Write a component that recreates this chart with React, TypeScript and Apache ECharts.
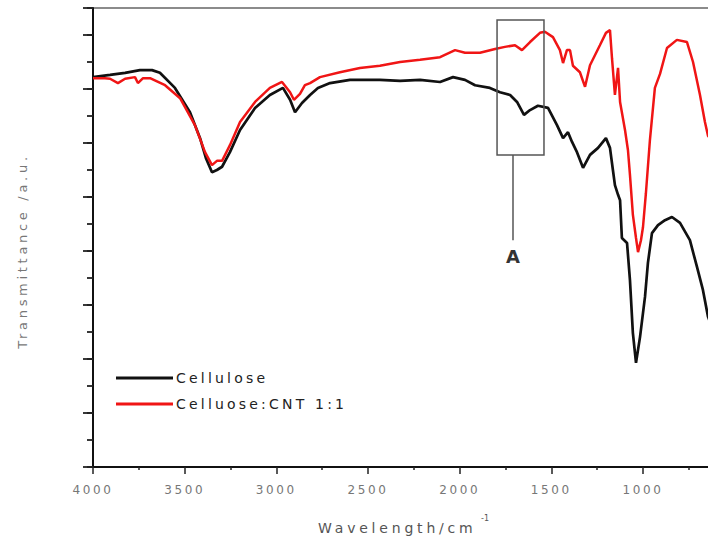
import React, { useEffect, useRef } from 'react';
import * as echarts from 'echarts';

// Cellulose (black) – wavenumber (cm-1) and transmittance (a.u.)
const cellWn = [4000,3907,3825,3744,3678,3635,3553,3471,3416,3384,3351,3324,3296,3253,3198,3116,3035,2964,2925,2898,2860,2816,2773,2707,2598,2435,2325,2216,2107,2036,1971,1916,1835,1780,1725,1687,1649,1616,1573,1518,1469,1436,1409,1387,1360,1327,1289,1245,1202,1180,1164,1153,1136,1125,1115,1087,1071,1055,1038,1016,989,973,951,918,880,842,798,744,705,673,645,607,525,400];
const cellT = [7.22,7.26,7.30,7.35,7.35,7.30,7.02,6.57,6.09,5.72,5.46,5.50,5.56,5.83,6.24,6.65,6.89,7.02,6.80,6.57,6.74,6.89,7.02,7.11,7.17,7.17,7.15,7.17,7.13,7.22,7.17,7.07,7.02,6.94,6.89,6.76,6.52,6.61,6.69,6.65,6.33,6.09,6.20,6.02,5.83,5.54,5.78,5.91,6.09,5.91,5.50,5.22,5.04,4.94,4.24,4.15,3.46,2.48,1.93,2.41,3.15,3.78,4.33,4.48,4.57,4.63,4.52,4.20,3.70,3.28,2.78,2.44,2.26,2.30];

// Celluose:CNT 1:1 (red)
const cntWn = [4000,3935,3907,3864,3825,3771,3755,3727,3689,3607,3525,3444,3389,3351,3324,3296,3253,3198,3116,3035,2969,2925,2904,2871,2844,2816,2762,2653,2544,2435,2325,2216,2107,2025,1971,1889,1807,1753,1698,1660,1616,1562,1535,1491,1453,1436,1415,1398,1382,1344,1316,1289,1235,1202,1180,1169,1153,1136,1125,1098,1082,1071,1055,1038,1027,1011,1000,984,962,935,907,869,815,760,727,689,662,645,580,400];
const cntT = [7.20,7.20,7.19,7.11,7.19,7.22,7.11,7.20,7.20,7.07,6.83,6.33,5.83,5.59,5.67,5.67,5.96,6.39,6.76,7.02,7.13,6.94,6.80,6.91,7.07,7.11,7.22,7.31,7.39,7.43,7.50,7.54,7.59,7.72,7.67,7.67,7.74,7.78,7.81,7.72,7.87,8.04,8.06,7.96,7.72,7.48,7.72,7.72,7.43,7.31,7.04,7.44,7.81,8.04,8.09,7.57,6.89,7.39,6.76,6.24,5.87,5.41,4.67,4.24,3.98,4.20,4.44,5.07,6.06,7.02,7.28,7.76,7.91,7.87,7.50,6.89,6.39,6.13,5.87,5.80];

const seriesNames = ['Cellulose', 'Celluose:CNT 1:1'];

// lowest tick label visible in the (cropped) figure
const MIN_LABEL = 1000;

// Annotation "A" box (data space)
const BOX_WN = [1796, 1540];
const BOX_T = [8.28, 5.78];
const LEAD_WN = 1709;
const LEAD_END_T = 4.2;
const A_T = 3.9;

const FONT = 'DejaVu Sans';

export default function App() {
  const ref = useRef<HTMLDivElement>(null);

  useEffect(() => {
    const el = ref.current as HTMLDivElement;
    const chart = echarts.init(el, null, { renderer: 'svg' });

    const spacing = () => {
      el.querySelectorAll('text').forEach((t) => {
        const s = t.textContent || '';
        let ls = 0;
        if (/^\d+$/.test(s)) ls = 2.6;
        else if (s.startsWith('Cell')) ls = 3.2;
        else if (s.startsWith('Transmittance')) ls = 3.7;
        else if (s.startsWith('Wavelength')) ls = 3.8;
        if (ls) {
          t.setAttribute('letter-spacing', String(ls));
          (t as any).style.letterSpacing = ls + 'px';
        }
      });
    };
    chart.on('finished', spacing);

    const yBase = {
      type: 'value',
      position: 'left',
      offset: 0,
      min: 0,
      max: 8.5,
      axisLabel: { show: false },
      splitLine: { show: false },
    };

    chart.setOption({
      animation: false,
      backgroundColor: '#ffffff',
      grid: {
        left: 93,
        top: 8,
        width: 733.3,
        height: 459,
        show: true,
        borderColor: '#666',
        borderWidth: 1.5,
        backgroundColor: 'transparent',
      },
      legend: {
        orient: 'vertical',
        left: 111,
        top: 366,
        icon: 'rect',
        itemWidth: 57,
        itemHeight: 3,
        itemGap: 12,
        selectedMode: false,
        data: seriesNames,
        textStyle: { fontFamily: FONT, fontSize: 14, color: '#222', padding: [0, 0, 0, -2] },
      },
      xAxis: {
        type: 'value',
        min: 0,
        max: 4000,
        interval: 500,
        inverse: true,
        axisLine: { show: true, onZero: false, lineStyle: { color: '#111', width: 2 } },
        axisTick: { show: true, inside: false, length: 7, lineStyle: { color: '#222', width: 1.5 } },
        minorTick: { show: true, splitNumber: 2, length: 3, lineStyle: { color: '#222', width: 1.5 } },
        axisLabel: {
          show: true,
          margin: 17,
          fontFamily: FONT,
          fontSize: 12,
          color: '#777',
          formatter: (v: number) => (v < MIN_LABEL ? '' : String(v)),
        },
        splitLine: { show: false },
      },
      yAxis: [
        {
          ...yBase,
          interval: 0.5,
          axisLine: { show: true, onZero: false, lineStyle: { color: '#111', width: 2 } },
          axisTick: { show: true, inside: false, length: 6, lineStyle: { color: '#222', width: 1.8 } },
        },
        {
          ...yBase,
          interval: 1,
          axisLine: { show: false, onZero: false },
          axisTick: { show: true, inside: false, length: 10, lineStyle: { color: '#222', width: 1.8 } },
        },
      ],
      series: [
        {
          name: seriesNames[0],
          type: 'line',
          yAxisIndex: 0,
          showSymbol: false,
          symbol: 'none',
          color: '#111',
          lineStyle: { color: '#111', width: 2.7 },
          data: cellWn.map((w, i) => [w, cellT[i]]),
          z: 2,
        },
        {
          name: seriesNames[1],
          type: 'line',
          yAxisIndex: 0,
          showSymbol: false,
          symbol: 'none',
          color: '#f01515',
          lineStyle: { color: '#f01515', width: 2.5 },
          data: cntWn.map((w, i) => [w, cntT[i]]),
          z: 3,
        },
      ],
    });

    const p = (x: number, y: number) =>
      chart.convertToPixel({ xAxisIndex: 0, yAxisIndex: 0 }, [x, y]) as number[];
    const b1 = p(BOX_WN[0], BOX_T[0]);
    const b2 = p(BOX_WN[1], BOX_T[1]);
    const l1 = p(LEAD_WN, BOX_T[1]);
    const l2 = p(LEAD_WN, LEAD_END_T);
    const aP = p(LEAD_WN, A_T);

    chart.setOption({
      graphic: [
        {
          type: 'rect',
          shape: { x: b1[0], y: b1[1], width: b2[0] - b1[0], height: b2[1] - b1[1] },
          style: { fill: 'none', stroke: '#555', lineWidth: 1.5 },
          z: 10,
        },
        {
          type: 'line',
          shape: { x1: l1[0], y1: l1[1], x2: l2[0], y2: l2[1] },
          style: { stroke: '#555', lineWidth: 1.5 },
          z: 10,
        },
        {
          type: 'text',
          x: aP[0],
          y: aP[1],
          style: { text: 'A', fontFamily: FONT, fontSize: 18, fontWeight: 'bold', fill: '#333', align: 'center', verticalAlign: 'middle' },
          z: 10,
        },
        {
          type: 'text',
          x: 22,
          y: 251,
          rotation: Math.PI / 2,
          style: { text: 'Transmittance /a.u.', fontFamily: FONT, fontSize: 13, fill: '#777', align: 'center', verticalAlign: 'middle' },
        },
        {
          type: 'text',
          x: 318,
          y: 528,
          style: { text: 'Wavelength/cm', fontFamily: FONT, fontSize: 14, fill: '#555', align: 'left', verticalAlign: 'middle' },
        },
        {
          type: 'text',
          x: 481,
          y: 518,
          style: { text: '-1', fontFamily: FONT, fontSize: 8, fill: '#555', align: 'left', verticalAlign: 'middle' },
        },
      ],
    });

    spacing();
    const raf = requestAnimationFrame(spacing);
    const to = setTimeout(spacing, 50);

    return () => {
      cancelAnimationFrame(raf);
      clearTimeout(to);
      chart.dispose();
    };
  }, []);

  return (
    <div style={{ position: 'fixed', left: 0, top: 0, width: 708, height: 545, overflow: 'hidden', background: '#fff' }}>
      <div ref={ref} style={{ width: 850, height: 545 }} />
    </div>
  );
}
